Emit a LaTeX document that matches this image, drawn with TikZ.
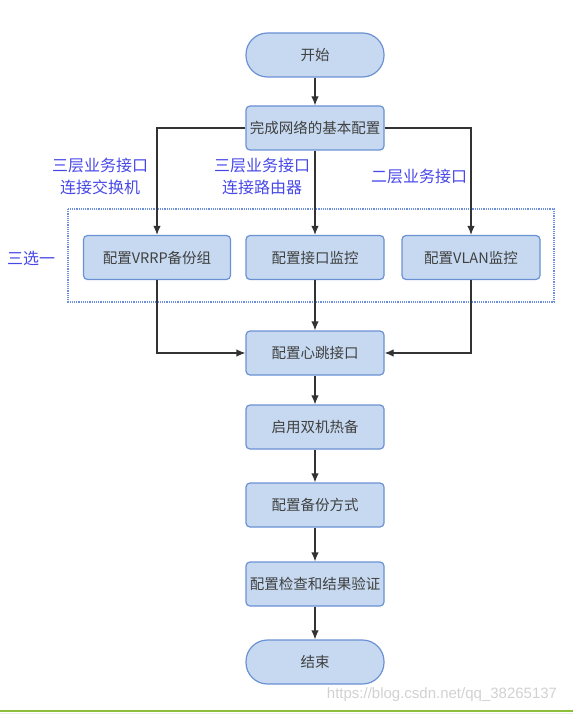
\documentclass[tikz,border=0pt]{standalone}
\usepackage{fontspec}
\setmainfont{Noto Sans CJK SC}
\newfontfamily\wmfont{Liberation Sans}
\usetikzlibrary{positioning}
\usetikzlibrary{arrows.meta}
\definecolor{boxfill}{HTML}{C6D9F0}
\definecolor{boxline}{HTML}{6A91D4}
\definecolor{labelblue}{HTML}{4848E8}
\definecolor{groupline}{HTML}{6C8FE0}
\definecolor{greenline}{HTML}{8DBE3C}

\begin{document}
\begin{tikzpicture}[x=1pt,y=-1pt,>={Latex[length=9pt,width=7.5pt]},
  stepbox/.style={draw=boxline,fill=boxfill,line width=1.2pt,rounded corners=4pt,
    minimum width=138pt,minimum height=44pt,inner sep=1pt,text=black!75,
    font=\fontsize{14.5}{17}\selectfont},
  term/.style={stepbox,rounded corners=21.5pt},
  lab/.style={text=labelblue,align=center,font=\fontsize{16}{22}\selectfont},
  flow/.style={->,line width=1.2pt,black!80}]
\useasboundingbox (0,0) rectangle (573,714);

% main column
\node[term] (start) at (315,55) {开始};
\node[stepbox] (base) at (315,128) {完成网络的基本配置};

% choose one of three
\draw[groupline,line width=1.1pt,dash pattern=on 1.2pt off 1pt] (68,209) rectangle (554,302);
\node[lab] (pick) at (31,258) {三选一};
\node[stepbox,minimum width=147pt] (vrrp) at (157,257.5) {配置VRRP备份组};
\node[stepbox] (ifmon) at (315,257.5) {配置接口监控};
\node[stepbox] (vlan) at (471,257.5) {配置VLAN监控};

\node[lab] (l1) at (100,176) {三层业务接口\\连接交换机};
\node[lab] (l2) at (262,176) {三层业务接口\\连接路由器};
\node[lab] (l3) at (419,176) {二层业务接口};

\node[stepbox] (hb) at (315,353) {配置心跳接口};
\node[stepbox] (hot) at (315,427) {启用双机热备};
\node[stepbox] (bak) at (315,505) {配置备份方式};
\node[stepbox] (chk) at (315,584) {配置检查和结果验证};
\node[term] (stop) at (315,662) {结束};

\draw[flow] (start) -- (base);
\draw[flow] (base.west) -| (vrrp.north);
\draw[flow] (base) -- (ifmon);
\draw[flow] (base.east) -| (vlan.north);
\draw[flow] (vrrp.south) |- (hb.west);
\draw[flow] (ifmon) -- (hb);
\draw[flow] (vlan.south) |- (hb.east);
\draw[flow] (hb) -- (hot);
\draw[flow] (hot) -- (bak);
\draw[flow] (bak) -- (chk);
\draw[flow] (chk) -- (stop);

% watermark and footer line
\node[text=black!18,font=\wmfont\fontsize{15}{15}\selectfont] (wm) at (442,695) {https://blog.csdn.net/qq\_38265137};
\fill[black!7] (0,712.5) rectangle (573,714);
\draw[greenline,line width=2.5pt] (0,711) -- (573,711);
\end{tikzpicture}
\end{document}
